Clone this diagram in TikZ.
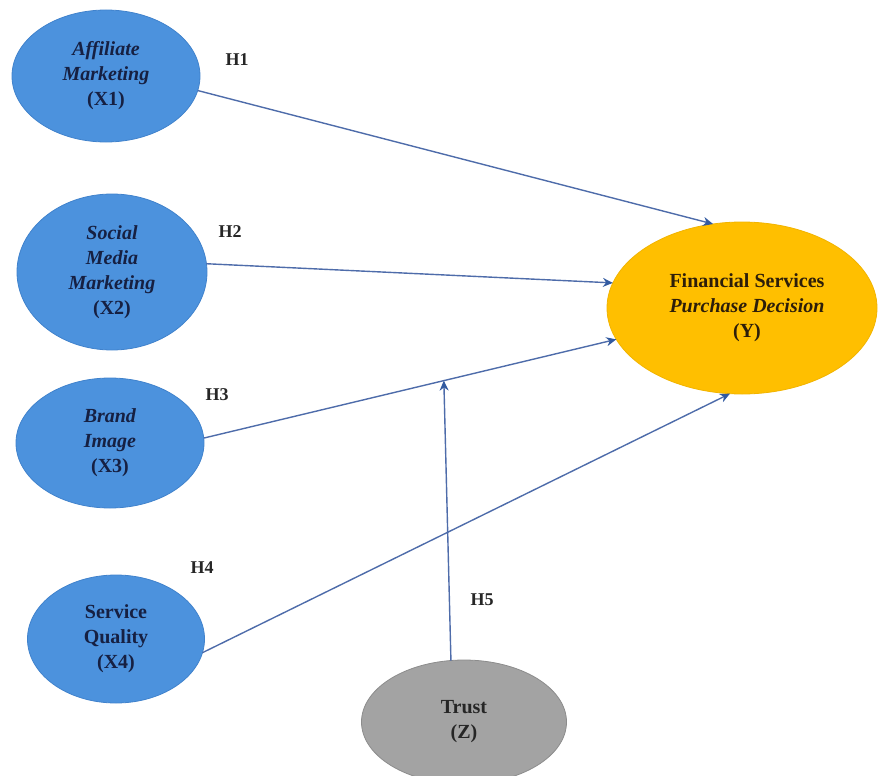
\documentclass[tikz,border=0pt]{standalone}
\usepackage{fontspec}
\setmainfont{Liberation Serif}
\usetikzlibrary{shapes.geometric,arrows.meta,calc}
\definecolor{bluefill}{RGB}{76,146,221}
\definecolor{blueedge}{RGB}{64,130,204}
\definecolor{goldfill}{RGB}{255,191,0}
\definecolor{goldedge}{RGB}{242,180,0}
\definecolor{greyfill}{RGB}{163,163,163}
\definecolor{greyedge}{RGB}{140,140,140}
\definecolor{linkc}{RGB}{78,108,170}
\definecolor{tipc}{RGB}{50,90,160}
\definecolor{navytext}{RGB}{22,32,66}
\definecolor{darktext}{RGB}{45,30,10}
\tikzset{
  latent/.style={ellipse, inner sep=0pt, outer sep=0pt, align=center,
    font=\bfseries\fontsize{20}{25}\selectfont, line width=0.8pt},
  xvar/.style={latent, fill=bluefill, draw=blueedge, text=navytext},
  yvar/.style={latent, fill=goldfill, draw=goldedge, text=darktext},
  zvar/.style={latent, fill=greyfill, draw=greyedge, text=black!85},
  link/.style={draw=linkc, line width=1.4pt,
    -{Stealth[length=10pt,width=9pt,color=tipc]}},
  hyp/.style={font=\bfseries\fontsize{18}{22}\selectfont, text=black!85}
}
\begin{document}
\begin{tikzpicture}[x=1pt,y=-1pt]
\useasboundingbox (0,0) rectangle (878,776);
\clip (0,0) rectangle (878,776);
\node[xvar, minimum width=188pt, minimum height=132pt] (x1) at (106,76)
  {\textit{Affiliate}\\\textit{Marketing}\\(X1)};
\node[xvar, minimum width=190pt, minimum height=156pt] (x2) at (112,272)
  {\textit{Social}\\\textit{Media}\\\textit{Marketing}\\(X2)};
\node[xvar, minimum width=188pt, minimum height=130pt] (x3) at (110,443)
  {\textit{Brand}\\\textit{Image}\\(X3)};
\node[xvar, minimum width=177pt, minimum height=128pt] (x4) at (116,639)
  {Service\\Quality\\(X4)};
\node[yvar, minimum width=270pt, minimum height=172pt] (y) at (742,308)
  {\hspace*{10pt}Financial Services\\\hspace*{10pt}\textit{Purchase Decision}\\\hspace*{10pt}(Y)};
\node[zvar, minimum width=205pt, minimum height=124pt] (z) at (464,722)
  {Trust\\(Z)};

\draw[link] (x1.-9) -- (y.109);
\draw[link] (x2.5) -- (y.169);
\draw[link] (x3.3) -- (y.194);
\draw[link] (x4.-9) -- (y.262);
\coordinate (h5) at ($(x3.3)!0.582!(y.194)$);
\draw[link] (z.102) -- (h5);

\node[hyp] (h1) at (237,60) {H1};
\node[hyp] (h2) at (230,232) {H2};
\node[hyp] (h3) at (217,395) {H3};
\node[hyp] (h4) at (202,568) {H4};
\node[hyp] (h5l) at (482,600) {H5};
\end{tikzpicture}
\end{document}
